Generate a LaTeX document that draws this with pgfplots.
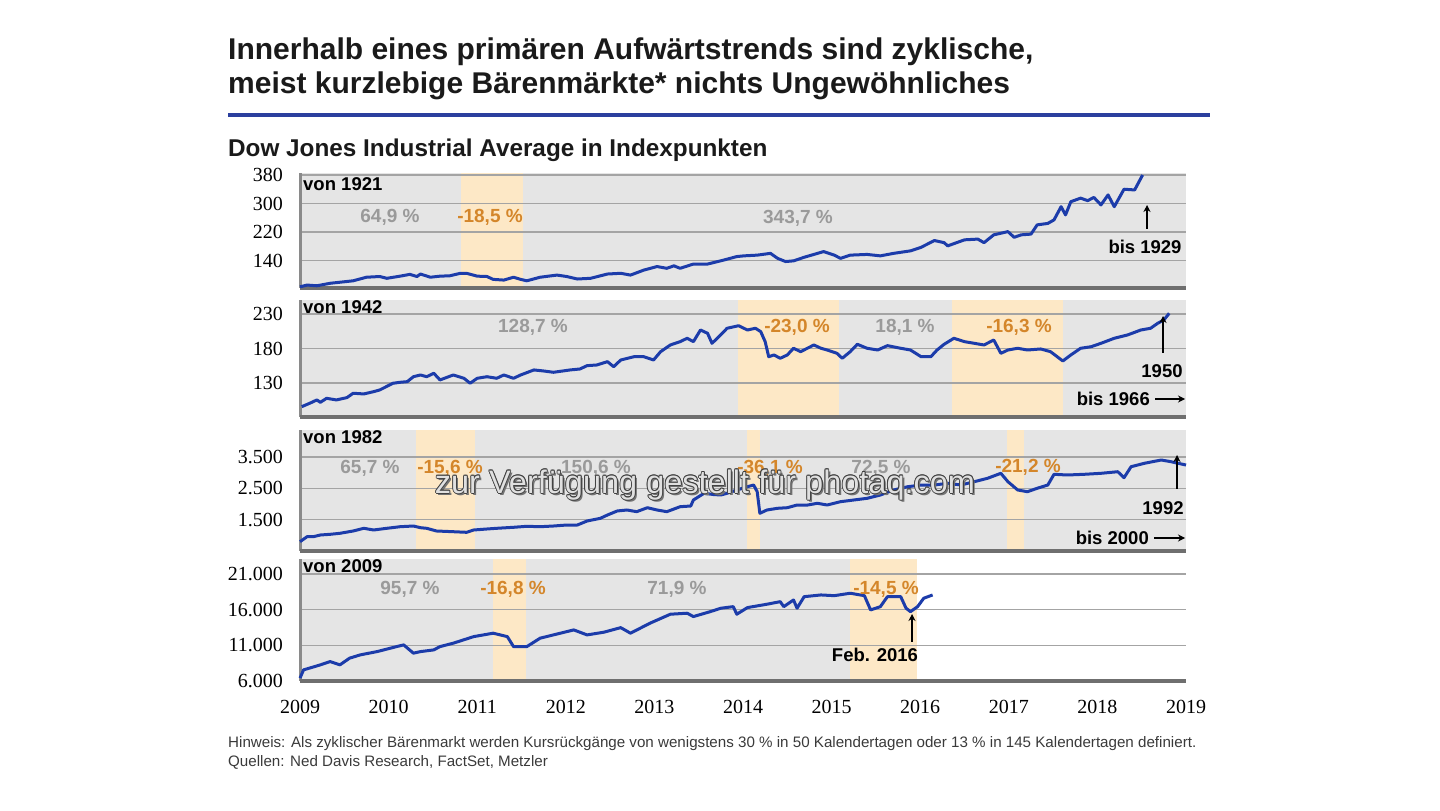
\documentclass[border=0pt]{standalone}
\usepackage{fontspec}
\setmainfont{Liberation Sans}
\newfontfamily\tickfont{Liberation Serif}
\usepackage{pgfplots}
\pgfplotsset{compat=1.18}
\usetikzlibrary{arrows.meta}

\definecolor{bggray}{HTML}{E5E5E5}
\definecolor{band}{HTML}{FDE8C6}
\definecolor{lineblue}{HTML}{1C3CAA}
\definecolor{gridgray}{HTML}{A4A4A4}
\definecolor{axisgray}{HTML}{6F6F6F}
\definecolor{leftgray}{HTML}{8A8A8A}
\definecolor{pctgray}{HTML}{9A9A9A}
\definecolor{pctorange}{HTML}{D4862A}
\definecolor{rule}{HTML}{2B3F9E}
\definecolor{titletext}{HTML}{1A1A1A}
\definecolor{foot}{HTML}{3A3A3A}

\newcommand{\fs}[1]{\fontsize{#1bp}{#1bp}\selectfont}

\pgfplotsset{
  panel/.style={
    set layers,
    scale only axis, width=886bp,
    xmin=0, xmax=10, clip=false,
    scaled y ticks=false,
    axis line style={draw=none},
    major tick length=0pt,
    ymajorgrids, grid style={gridgray, line width=1.3bp},
    xtick={0,...,10}, xticklabels={},
    yticklabel style={font=\tickfont\fs{20}, text=black, anchor=east, inner sep=0pt, xshift=-17bp},
    /pgf/number format/assume math mode=true,
  },
  blueline/.style={lineblue, line width=3bp, line join=round, mark=none},
}

\begin{document}
\begin{tikzpicture}[x=1bp,y=1bp]
\path (0,0) rectangle (1440,810);

% titles
\node[anchor=base west, inner sep=0pt, font=\bfseries\fs{30}, text=titletext] at (228,{810-60})
  {Innerhalb eines primären Aufwärtstrends sind zyklische,};
\node[anchor=base west, inner sep=0pt, font=\bfseries\fs{30}, text=titletext] at (228,{810-94})
  {meist kurzlebige Bärenmärkte* nichts Ungewöhnliches};
\draw[rule, line width=4bp] (228,{810-115}) -- (1210,{810-115});
\node[anchor=base west, inner sep=0pt, font=\bfseries\fs{24.3}, text=titletext] at (228,{810-157})
  {Dow Jones Industrial Average in Indexpunkten};

% panel 1: von 1921 bis 1929
\begin{axis}[panel, at={(300bp,522bp)}, anchor=south west, height=115bp,
  ymin=62.8, ymax=385.6, ytick={140,220,300,380}, yticklabels={140,220,300,380}]
\begin{pgfonlayer}{axis background}
\fill[bggray] (rel axis cs:0,0) rectangle (rel axis cs:1,1);
\fill[band] (axis cs:1.82,62.8) rectangle (axis cs:2.52,385.6);
\end{pgfonlayer}
\draw[leftgray, line width=3bp] (rel axis cs:0,0) -- (rel axis cs:0,1);
\draw[axisgray, line width=4bp] (rel axis cs:0,0) -- (rel axis cs:1,0);
\addplot[blueline] coordinates {
(0.00,66) (0.08,71) (0.19,69) (0.34,76) (0.49,80) (0.60,83) (0.75,93) (0.90,95)
(0.98,90) (1.13,96) (1.24,101) (1.32,95) (1.36,102) (1.47,93) (1.58,96) (1.69,97)
(1.81,104) (1.88,104) (2.00,96) (2.11,95) (2.18,87) (2.30,85) (2.41,93) (2.49,87)
(2.56,83) (2.71,93) (2.90,99) (3.01,95) (3.13,88) (3.28,90) (3.47,102) (3.62,104)
(3.73,99) (3.88,113) (4.03,123) (4.14,118) (4.22,125) (4.29,118) (4.44,130) (4.60,130)
(4.78,141) (4.93,151) (5.01,153) (5.16,155) (5.31,160) (5.39,146) (5.48,137) (5.57,139)
(5.69,149) (5.91,165) (6.03,155) (6.10,146) (6.21,155) (6.40,157) (6.55,153) (6.70,160)
(6.89,167) (7.01,177) (7.16,196) (7.27,190) (7.31,181) (7.50,198) (7.65,200) (7.72,190)
(7.83,212) (7.99,221) (8.06,205) (8.14,212) (8.25,214) (8.32,240) (8.44,244) (8.51,254)
(8.59,291) (8.64,268) (8.70,305) (8.81,315) (8.89,308) (8.96,317) (9.04,296) (9.12,324)
(9.19,291) (9.30,340) (9.42,338) (9.45,352) (9.51,380)
};
\end{axis}

% panel 2: von 1942 bis 1966
\begin{axis}[panel, at={(300bp,393bp)}, anchor=south west, height=117bp,
  ymin=80.7, ymax=250.3, ytick={130,180,230}, yticklabels={130,180,230}]
\begin{pgfonlayer}{axis background}
\fill[bggray] (rel axis cs:0,0) rectangle (rel axis cs:1,1);
\fill[band] (axis cs:4.94,80.7) rectangle (axis cs:6.08,250.3);
\fill[band] (axis cs:7.36,80.7) rectangle (axis cs:8.61,250.3);
\end{pgfonlayer}
\draw[leftgray, line width=3bp] (rel axis cs:0,0) -- (rel axis cs:0,1);
\draw[axisgray, line width=4bp] (rel axis cs:0,0) -- (rel axis cs:1,0);
\addplot[blueline] coordinates {
(0.02,95.7) (0.11,100.6) (0.19,105.4) (0.23,102.0) (0.30,107.8) (0.41,105.4) (0.53,108.8)
(0.60,115.1) (0.72,114.1) (0.83,117.4) (0.90,119.9) (1.05,129.6) (1.13,131.0) (1.21,131.9)
(1.28,139.1) (1.36,141.6) (1.43,139.1) (1.51,144.1) (1.58,134.4) (1.73,141.6) (1.85,136.8)
(1.92,129.6) (2.00,136.8) (2.11,139.1) (2.22,136.8) (2.30,141.6) (2.41,136.8) (2.49,141.6)
(2.64,148.9) (2.75,147.4) (2.86,145.5) (3.05,148.9) (3.16,150.3) (3.24,155.1) (3.35,156.1)
(3.47,160.9) (3.54,153.6) (3.62,163.3) (3.77,168.1) (3.88,168.1) (3.99,163.3) (4.07,175.4)
(4.18,185.1) (4.29,189.9) (4.37,194.8) (4.44,189.9) (4.52,206.8) (4.60,202.0) (4.65,187.5)
(4.75,200.0) (4.82,209.3) (4.95,213.0) (5.05,206.8) (5.14,209.3) (5.20,204.4) (5.25,189.9)
(5.29,168.1) (5.35,170.6) (5.42,165.8) (5.50,170.6) (5.57,180.3) (5.65,175.4) (5.80,185.1)
(5.88,180.3) (5.95,177.8) (6.06,173.0) (6.12,165.8) (6.21,175.4) (6.29,186.1) (6.40,180.3)
(6.52,177.8) (6.63,184.1) (6.78,180.3) (6.89,177.8) (7.01,168.1) (7.12,168.1) (7.19,177.8)
(7.27,186.1) (7.38,194.8) (7.50,189.9) (7.61,187.5) (7.72,185.1) (7.83,192.3) (7.91,173.0)
(7.99,177.8) (8.10,180.3) (8.21,177.8) (8.36,179.3) (8.47,175.4) (8.61,161.9) (8.70,170.6)
(8.81,180.3) (8.93,182.6) (9.04,187.5) (9.19,194.8) (9.34,199.6) (9.49,206.8) (9.60,209.3)
(9.68,216.5) (9.75,221.3) (9.81,231.0)
};
\end{axis}

% panel 3: von 1982 bis 2000
\begin{axis}[panel, at={(300bp,259bp)}, anchor=south west, height=121bp,
  ymin=497, ymax=4363, ytick={1500,2500,3500}, yticklabels={1.500,2.500,3.500}]
\begin{pgfonlayer}{axis background}
\fill[bggray] (rel axis cs:0,0) rectangle (rel axis cs:1,1);
\fill[band] (axis cs:1.31,497) rectangle (axis cs:1.97,4363);
\fill[band] (axis cs:5.04,497) rectangle (axis cs:5.19,4363);
\fill[band] (axis cs:7.98,497) rectangle (axis cs:8.17,4363);
\end{pgfonlayer}
\draw[leftgray, line width=3bp] (rel axis cs:0,0) -- (rel axis cs:0,1);
\draw[axisgray, line width=4bp] (rel axis cs:0,0) -- (rel axis cs:1,0);
\addplot[blueline] coordinates {
(0.00,794) (0.08,954) (0.15,954) (0.23,1008) (0.34,1030) (0.45,1062) (0.60,1136) (0.72,1222)
(0.83,1168) (0.98,1222) (1.13,1273) (1.28,1295) (1.36,1241) (1.43,1222) (1.54,1136) (1.73,1113)
(1.88,1094) (1.96,1168) (2.11,1200) (2.22,1222) (2.41,1254) (2.56,1286) (2.71,1273) (2.86,1295)
(3.01,1327) (3.13,1327) (3.24,1455) (3.39,1541) (3.47,1647) (3.58,1775) (3.69,1807) (3.80,1753)
(3.92,1880) (4.03,1807) (4.14,1753) (4.29,1912) (4.41,1934) (4.44,2126) (4.56,2340) (4.67,2300)
(4.75,2286) (4.82,2340) (4.93,2446) (5.05,2551) (5.12,2605) (5.16,2391) (5.19,1701) (5.27,1807)
(5.39,1861) (5.50,1880) (5.61,1966) (5.73,1966) (5.84,2021) (5.95,1966) (6.10,2072) (6.25,2126)
(6.40,2180) (6.55,2286) (6.70,2446) (6.86,2551) (7.01,2605) (7.16,2605) (7.31,2660) (7.46,2605)
(7.61,2711) (7.76,2820) (7.91,2979) (7.99,2711) (8.10,2446) (8.21,2391) (8.32,2500) (8.44,2605)
(8.51,2947) (8.66,2925) (8.85,2947) (9.04,2979) (9.23,3030) (9.30,2839) (9.38,3190) (9.53,3299)
(9.72,3404) (9.83,3350) (9.91,3299) (10.00,3244)
};
\end{axis}

% panel 4: von 2009
\begin{axis}[panel, at={(300bp,129bp)}, anchor=south west, height=122bp,
  ymin=6000, ymax=23100, ytick={6000,11000,16000,21000},
  yticklabels={6.000,11.000,16.000,21.000},
  xticklabels={2009,2010,2011,2012,2013,2014,2015,2016,2017,2018,2019},
  xticklabel style={font=\tickfont\fs{20}, text=black, anchor=north, inner sep=0pt, yshift=-19bp}]
\begin{pgfonlayer}{axis background}
\fill[bggray] (axis cs:0,6000) rectangle (axis cs:6.21,23100);
\fill[band] (axis cs:2.18,6000) rectangle (axis cs:2.55,23100);
\fill[band] (axis cs:6.21,6000) rectangle (axis cs:6.96,23100);
\end{pgfonlayer}
\draw[leftgray, line width=3bp] (rel axis cs:0,0) -- (rel axis cs:0,1);
\draw[axisgray, line width=4bp] (rel axis cs:0,0) -- (rel axis cs:1,0);
\addplot[blueline] coordinates {
(0.00,6400) (0.04,7560) (0.23,8260) (0.34,8720) (0.45,8260) (0.56,9200) (0.68,9660) (0.87,10120)
(1.09,10820) (1.17,11060) (1.28,9900) (1.36,10120) (1.51,10360) (1.58,10820) (1.73,11300)
(1.96,12220) (2.18,12700) (2.34,12220) (2.41,10820) (2.56,10820) (2.71,12000) (2.86,12460)
(3.09,13160) (3.24,12460) (3.43,12840) (3.62,13480) (3.73,12700) (3.95,14100) (4.18,15360)
(4.37,15500) (4.44,15030) (4.63,15720) (4.75,16200) (4.89,16420) (4.93,15360) (5.05,16290)
(5.27,16760) (5.42,17120) (5.46,16420) (5.57,17360) (5.61,16200) (5.69,17820) (5.88,18060)
(6.03,17960) (6.21,18300) (6.37,17960) (6.44,15960) (6.55,16420) (6.63,17820) (6.78,17820)
(6.84,16200) (6.89,15720) (6.97,16420) (7.04,17600) (7.14,18060)
};
\end{axis}

% annotations
\tikzset{lab/.style={font=\bfseries\fs{18.5}, text=black, inner sep=0pt},
         pg/.style={font=\bfseries\fs{19}, text=pctgray, inner sep=0pt},
         po/.style={font=\bfseries\fs{19}, text=pctorange, inner sep=0pt},
         arr/.style={-{Stealth[length=7bp,width=7bp]}, line width=2.2bp, black}}
% panel 1
\node[lab, anchor=west] at (303,{810-184}) {von 1921};
\node[pg] at (390,{810-217}) {64,9 \%};
\node[po] at (490,{810-217}) {-18,5 \%};
\node[pg] at (798,{810-218}) {343,7 \%};
\draw[arr] (1147,{810-229}) -- (1147,{810-205});
\node[lab] at (1145,{810-247}) {bis 1929};
% panel 2
\node[lab, anchor=west] at (303,{810-307}) {von 1942};
\node[pg] at (533,{810-327}) {128,7 \%};
\node[po] at (797,{810-327}) {-23,0 \%};
\node[pg] at (905,{810-327}) {18,1 \%};
\node[po] at (1019,{810-327}) {-16,3 \%};
\draw[arr] (1163,{810-353}) -- (1163,{810-316});
\node[lab] at (1162,{810-371}) {1950};
\node[lab, anchor=east] at (1150,{810-399}) {bis 1966};
\draw[arr] (1155,{810-399}) -- (1185,{810-399});
% panel 3
\node[lab, anchor=west] at (303,{810-437}) {von 1982};
\node[pg] at (370,{810-468}) {65,7 \%};
\node[po] at (450,{810-468}) {-15,6 \%};
\node[pg] at (596,{810-468}) {150,6 \%};
\node[po] at (770,{810-468}) {-36,1 \%};
\node[pg] at (881,{810-468}) {72,5 \%};
\node[po] at (1028,{810-467}) {-21,2 \%};
\draw[arr] (1177,{810-489}) -- (1177,{810-455});
\node[lab] at (1163,{810-508}) {1992};
\node[lab, anchor=east] at (1149,{810-538}) {bis 2000};
\draw[arr] (1154,{810-538}) -- (1185,{810-538});
% panel 4
\node[lab, anchor=west] at (303,{810-566}) {von 2009};
\node[pg] at (410,{810-589}) {95,7 \%};
\node[po] at (513,{810-589}) {-16,8 \%};
\node[pg] at (677,{810-589}) {71,9 \%};
\node[po] at (886,{810-589}) {-14,5 \%};
\draw[arr] (912,{810-642}) -- (912,{810-614});
\node[lab] at (875,{810-655}) {Feb. 2016};

% watermark
\node[font=\fs{32.5}, text=black!55, inner sep=0pt] at (707,{810-487}) {zur Verfügung gestellt für photaq.com};
\foreach \dx/\dy in {-0.8/0,0.8/0,0/0.8,0/-0.8,-0.6/0.6,0.6/0.6,-0.6/-0.6,0.6/-0.6}
  \node[font=\fs{32.5}, text=black!75, inner sep=0pt] at ({705+\dx},{810-485+\dy}) {zur Verfügung gestellt für photaq.com};
\node[font=\fs{32.5}, text=white!88!black, inner sep=0pt] at (705,{810-485}) {zur Verfügung gestellt für photaq.com};

% footnotes
\node[anchor=base west, inner sep=0pt, font=\fs{15.15}, text=foot] at (228,{810-747})
  {Hinweis: Als zyklischer Bärenmarkt werden Kursrückgänge von wenigstens 30 \% in 50 Kalendertagen oder 13 \% in 145 Kalendertagen definiert.};
\node[anchor=base west, inner sep=0pt, font=\fs{15.15}, text=foot] at (228,{810-766})
  {Quellen: Ned Davis Research, FactSet, Metzler};
\end{tikzpicture}
\end{document}
